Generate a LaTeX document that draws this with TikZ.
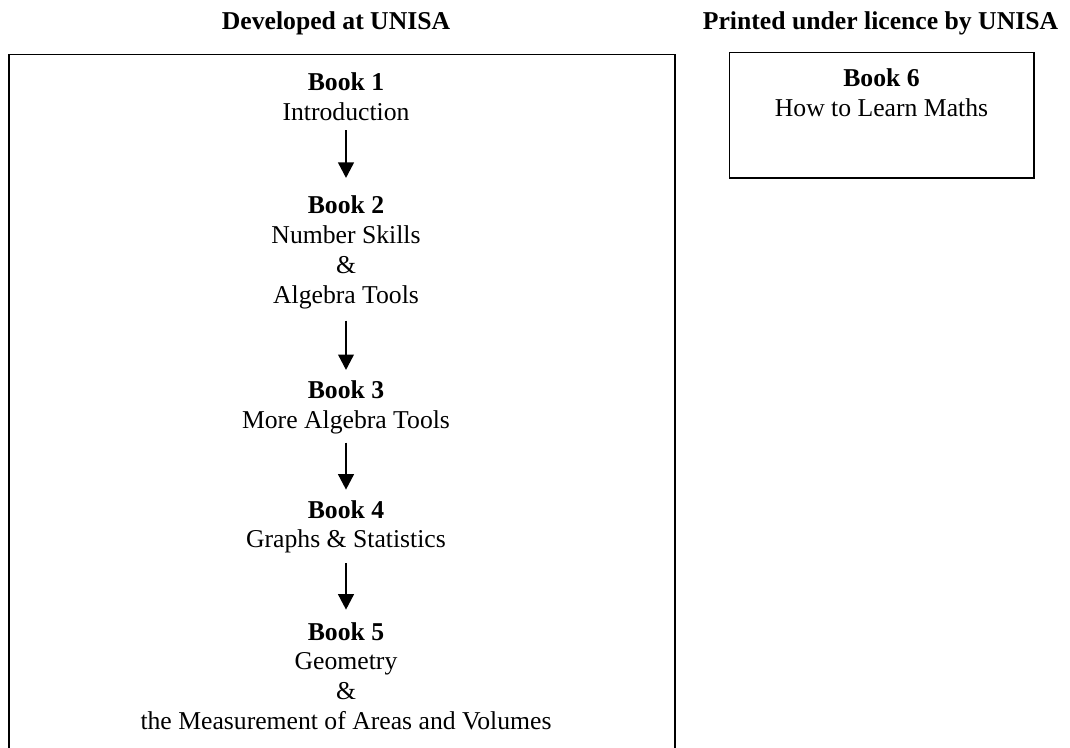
\documentclass[tikz,border=0pt]{standalone}
\usepackage{fontspec}
\setmainfont{Liberation Serif}
\usetikzlibrary{arrows.meta,calc}
\begin{document}
\begin{tikzpicture}[x=0.4673pt,y=-0.4673pt,
  txt/.style={inner sep=0pt,anchor=base,font=\fontsize{12}{14}\selectfont},
  head/.style={txt,font=\fontsize{12}{14}\selectfont\bfseries},
  frame/.style={draw=black,line width=0.9pt},
  arr/.style={draw=black,line width=0.65pt,-{Triangle[width=7.4pt,length=7.2pt]}}]
\useasboundingbox (0,0) rectangle (1070,747);
% headers
\node[head] (h1) at (336,29) {Developed at UNISA};
\node[head] (h2) at (880.5,29) {Printed under licence by UNISA};
% frames
\draw[frame] (9,54.5) rectangle (675,790);
\draw[frame] (729.5,52.5) rectangle (1034,178);
% books
\node[txt] (b1) at (346,90.7) {\begin{tabular}[t]{@{}c@{}}\textbf{Book 1}\\Introduction\end{tabular}};
\node[txt] (b2) at (346,213.3) {\begin{tabular}[t]{@{}c@{}}\textbf{Book 2}\\Number Skills\\\&\\Algebra Tools\end{tabular}};
\node[txt] (b3) at (346,398.3) {\begin{tabular}[t]{@{}c@{}}\textbf{Book 3}\\More Algebra Tools\end{tabular}};
\node[txt] (b4) at (346,518) {\begin{tabular}[t]{@{}c@{}}\textbf{Book 4}\\Graphs \& Statistics\end{tabular}};
\node[txt] (b5) at (346,640) {\begin{tabular}[t]{@{}c@{}}\textbf{Book 5}\\Geometry\\\&\\the Measurement of Areas and Volumes\end{tabular}};
\node[txt] (b6) at (881.5,86.7) {\begin{tabular}[t]{@{}c@{}}\textbf{Book 6}\\How to Learn Maths\end{tabular}};
% arrows
\draw[arr] ($(b1.south)+(0,0)$) -- ($(b2.north)+(0,-14)$);
\draw[arr] ($(b2.south)+(0,8)$) -- ($(b3.north)+(0,-7)$);
\draw[arr] ($(b3.south)+(0,5)$) -- ($(b4.north)+(0,-7)$);
\draw[arr] ($(b4.south)+(0,6)$) -- ($(b5.north)+(0,-9)$);
\end{tikzpicture}
\end{document}
